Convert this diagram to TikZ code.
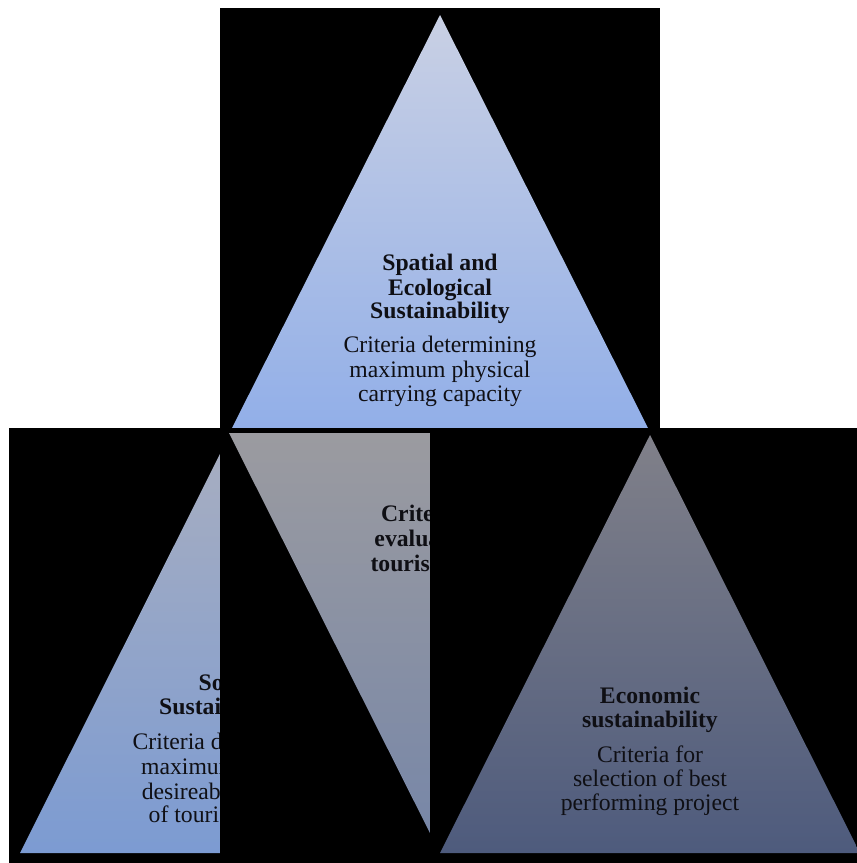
\documentclass[tikz,border=0pt]{standalone}
\usepackage{fontspec}
\setmainfont{Liberation Serif}
\definecolor{topA}{RGB}{201,208,228}
\definecolor{topB}{RGB}{146,175,232}
\definecolor{socA}{RGB}{168,174,192}
\definecolor{socB}{RGB}{124,155,210}
\definecolor{midA}{RGB}{155,155,160}
\definecolor{midB}{RGB}{118,134,168}
\definecolor{ecoA}{RGB}{128,128,137}
\definecolor{ecoB}{RGB}{78,91,125}
\definecolor{txt}{RGB}{15,15,20}
\begin{document}
\begin{tikzpicture}[x=1pt,y=-1pt,
  lbl/.style={anchor=base,inner sep=0pt,font=\fontsize{23.7}{25}\selectfont\bfseries,text=txt},
  sub/.style={anchor=base,inner sep=0pt,font=\fontsize{23.7}{25}\selectfont,text=txt},
  panel/.style={fill=black}]
\useasboundingbox (0,0) rectangle (857,863);
\fill[white] (0,0) rectangle (857,863);

% top panel
\begin{scope}
\clip (220,8) rectangle (660,428);
\fill[panel] (220,8) rectangle (660,428);
\shade[top color=topA,bottom color=topB] (440,15) -- (648,428) -- (232,428) -- cycle;
\node[lbl] (t1) at (440,270) {Spatial and};
\node[lbl] (t2) at (440,295) {Ecological};
\node[lbl] (t3) at (440,318) {Sustainability};
\node[sub] (t4) at (440,352.5) {Criteria determining};
\node[sub] (t5) at (440,377.5) {maximum physical};
\node[sub] (t6) at (440,401.5) {carrying capacity};
\end{scope}

% social panel
\begin{scope}
\clip (9,428) rectangle (220,863);
\fill[panel] (9,428) rectangle (220,863);
\shade[top color=socA,bottom color=socB] (228.5,437) -- (437,853) -- (20,853) -- cycle;
\node[lbl] (s1) at (229,690) {Social};
\node[lbl] (s2) at (229,714.5) {Sustainability};
\node[sub] (s3) at (229,749.5) {Criteria determining};
\node[sub] (s4) at (229,774.5) {maximum socially};
\node[sub] (s5) at (229,799) {desireable number};
\node[sub] (s6) at (229,822.5) {of tourist density};
\end{scope}

% middle panel
\begin{scope}
\clip (220,428) rectangle (430,863);
\fill[panel] (220,428) rectangle (430,863);
\shade[top color=midA,bottom color=midB] (229,433) -- (651,433) -- (440,853) -- cycle;
\node[lbl] (m1) at (440,521.5) {Criteria for};
\node[lbl] (m2) at (440,546.5) {evaluation of};
\node[lbl] (m3) at (440,571.5) {tourism plans};
\end{scope}

% economic panel
\begin{scope}
\clip (430,428) rectangle (857,863);
\fill[panel] (430,428) rectangle (857,863);
\shade[top color=ecoA,bottom color=ecoB] (650,435) -- (860,853) -- (440,853) -- cycle;
\node[lbl] (e1) at (650,703) {Economic};
\node[lbl] (e2) at (650,727) {sustainability};
\node[sub] (e3) at (650,762) {Criteria for};
\node[sub] (e4) at (650,786.5) {selection of best};
\node[sub] (e5) at (650,810) {performing project};
\end{scope}
\end{tikzpicture}
\end{document}
